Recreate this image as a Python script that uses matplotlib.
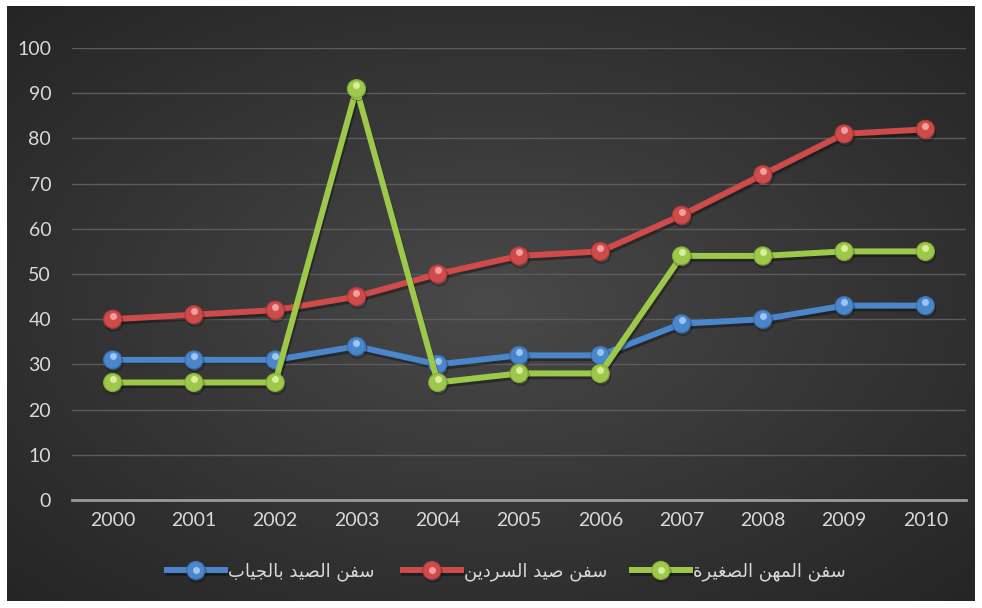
import numpy as np
import matplotlib
matplotlib.use("Agg")
import matplotlib.pyplot as plt
import matplotlib.patheffects as pe
from matplotlib.transforms import ScaledTranslation
from matplotlib.legend_handler import HandlerTuple

# Fleet counts per year
years = ["2000", "2001", "2002", "2003", "2004", "2005", "2006", "2007", "2008", "2009", "2010"]
trawlers = [31, 31, 31, 34, 30, 32, 32, 39, 40, 43, 43]        # سفن الصيد بالجياب
sardine_boats = [40, 41, 42, 45, 50, 54, 55, 63, 72, 81, 82]   # سفن صيد السردين
small_crafts = [26, 26, 26, 91, 26, 28, 28, 54, 54, 55, 55]    # سفن المهن الصغيرة
series_names = ["سفن الصيد بالجياب", "سفن صيد السردين", "سفن المهن الصغيرة"]
y_ticks = [0, 10, 20, 30, 40, 50, 60, 70, 80, 90, 100]

# matplotlib has no Arabic shaping, so pick presentation forms by hand
FORMS = {
    "\u0627": ("\uFE8D", "\uFE8E", None, None),
    "\u0628": ("\uFE8F", "\uFE90", "\uFE91", "\uFE92"),
    "\u0629": ("\uFE93", "\uFE94", None, None),
    "\u062C": ("\uFE9D", "\uFE9E", "\uFE9F", "\uFEA0"),
    "\u062F": ("\uFEA9", "\uFEAA", None, None),
    "\u0631": ("\uFEAD", "\uFEAE", None, None),
    "\u0633": ("\uFEB1", "\uFEB2", "\uFEB3", "\uFEB4"),
    "\u0635": ("\uFEB9", "\uFEBA", "\uFEBB", "\uFEBC"),
    "\u063A": ("\uFECD", "\uFECE", "\uFECF", "\uFED0"),
    "\u0641": ("\uFED1", "\uFED2", "\uFED3", "\uFED4"),
    "\u0644": ("\uFEDD", "\uFEDE", "\uFEDF", "\uFEE0"),
    "\u0645": ("\uFEE1", "\uFEE2", "\uFEE3", "\uFEE4"),
    "\u0646": ("\uFEE5", "\uFEE6", "\uFEE7", "\uFEE8"),
    "\u0647": ("\uFEE9", "\uFEEA", "\uFEEB", "\uFEEC"),
    "\u064A": ("\uFEF1", "\uFEF2", "\uFEF3", "\uFEF4"),
}


def shape(text):
    out = []
    for i, ch in enumerate(text):
        if ch not in FORMS:
            out.append(ch)
            continue
        prev = text[i - 1] if i > 0 else ""
        nxt = text[i + 1] if i + 1 < len(text) else ""
        joins_prev = prev in FORMS and FORMS[prev][2] is not None
        dual = FORMS[ch][2] is not None
        joins_next = dual and nxt in FORMS
        iso, fin, ini, med = FORMS[ch]
        if joins_prev and joins_next:
            out.append(med)
        elif joins_prev:
            out.append(fin)
        elif joins_next:
            out.append(ini)
        else:
            out.append(iso)
    return "".join(out)[::-1]


W, H = 982, 608
fig = plt.figure(figsize=(W / 100, H / 100), dpi=100, facecolor="white")

# dark radial gradient panel
bg = fig.add_axes([7 / W, 7 / H, 968 / W, 595 / H])
gx, gy = np.meshgrid(np.linspace(-1, 1, 400), np.linspace(-1, 1, 250))
r = np.clip(np.sqrt(gx ** 2 + gy ** 2) / np.sqrt(2), 0, 1)
lo, hi = 0x25 / 255, 0x4a / 255
shade = hi - (hi - lo) * r ** 0.9
bg.imshow(np.dstack([shade] * 3), aspect="auto", extent=[0, 1, 0, 1], interpolation="bilinear")
bg.set_axis_off()

ax = fig.add_axes([72 / W, (H - 500) / H, 894 / W, 452 / H])
ax.set_facecolor("none")
x = np.arange(len(years))

colors = ["#4a86cc", "#cf4a4a", "#9dc84a"]
rims = ["#3a6eae", "#b03a3a", "#84ad38"]
lights = ["#c4e0ff", "#ffc4c4", "#f4ffc4"]
data = [trawlers, sardine_boats, small_crafts]
hl_offset = ScaledTranslation(0, 2.6 / 72, fig.dpi_scale_trans)
shadow = [pe.SimpleLineShadow(offset=(1, -2), alpha=0.35, shadow_color="black"), pe.Normal()]
handles = []
for i, (vals, c, rc, lc) in enumerate(zip(data, colors, rims, lights)):
    line, = ax.plot(x, vals, color=c, lw=4.3, marker="o", ms=13,
                    mfc=c, mec=rc, mew=0.8, zorder=3 + i, clip_on=False,
                    solid_joinstyle="round", path_effects=shadow)
    hl, = ax.plot(x, vals, ls="none", marker="o", ms=5, mfc=lc, mec="none",
                  alpha=0.7, zorder=3.5 + i, clip_on=False,
                  transform=ax.transData + hl_offset)
    handles.append((line, hl))

ax.set_xlim(-0.5, len(years) - 0.5)
ax.set_ylim(0, 100)
ax.set_yticks(y_ticks)
ax.set_xticks(x)
ax.set_xticklabels(years)
ax.yaxis.grid(True, color="#5c5c5c", lw=1)
ax.set_axisbelow(True)
for s in ["top", "right", "left"]:
    ax.spines[s].set_visible(False)
ax.spines["bottom"].set_color("#9a9a9a")
ax.spines["bottom"].set_linewidth(2)
ax.tick_params(axis="both", length=0, labelcolor="#d9d9d9", labelsize=14)
ax.tick_params(axis="y", pad=15)
ax.tick_params(axis="x", pad=9)
for lbl in ax.get_xticklabels() + ax.get_yticklabels():
    lbl.set_family(["Lato", "DejaVu Sans"])

# one legend per series so the entries sit at fixed slots
slots = [167, 403, 632]
for h, name, sx in zip(handles, series_names, slots):
    leg = fig.legend([h], [shape(name)],
                     handler_map={tuple: HandlerTuple(ndivide=1, pad=0)},
                     loc="center left", bbox_to_anchor=(sx / W, (H - 572) / H),
                     frameon=False, handlelength=3.2, handletextpad=0.2,
                     borderpad=0, borderaxespad=0, numpoints=1,
                     prop={"family": "DejaVu Sans", "size": 13})
    for t in leg.get_texts():
        t.set_color("#d9d9d9")

fig.savefig("out.png", dpi=100, facecolor="white")
